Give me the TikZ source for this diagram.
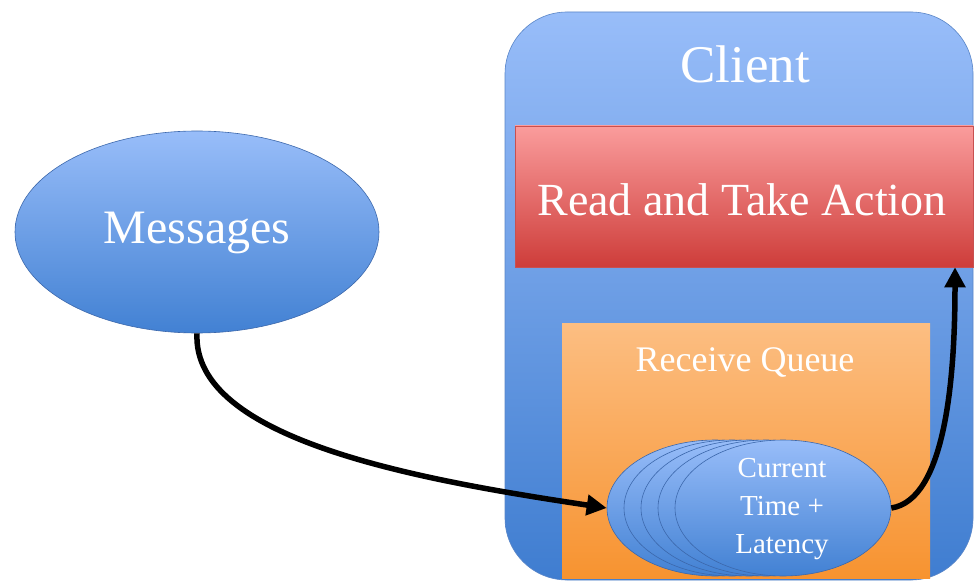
\documentclass[tikz,border=0pt]{standalone}
\usepackage{fontspec}
\setmainfont{Liberation Serif}
\usetikzlibrary{shapes.geometric,arrows.meta}
\definecolor{cltop}{HTML}{98BDF9}
\definecolor{clbot}{HTML}{3F7DD0}
\definecolor{cledge}{HTML}{5A86C8}
\definecolor{rdtop}{HTML}{FA9C9C}
\definecolor{rdbot}{HTML}{CE3D3A}
\definecolor{rdedge}{HTML}{C85050}
\definecolor{ortop}{HTML}{FCBE82}
\definecolor{orbot}{HTML}{F79330}
\definecolor{ellbot}{HTML}{4281D3}
\definecolor{elledge}{HTML}{3C68AC}
\tikzset{
  txt/.style={text=white},
  blueell/.style={ellipse, draw=elledge, line width=0.6pt, top color=cltop, bottom color=ellbot, inner sep=0pt},
  flow/.style={line width=5.5pt, black, -{Triangle[length=20pt,width=20pt]}}
}
\begin{document}
\begin{tikzpicture}[x=1pt,y=-1pt]
\useasboundingbox[fill=white] (0,0) rectangle (974,588);
% client
\node[draw=cledge, line width=0.6pt, rounded corners=62pt, top color=cltop, bottom color=clbot,
      minimum width=468pt, minimum height=568pt, inner sep=0pt] (client) at (739,296) {};
\node[txt, font=\fontsize{53}{60}\selectfont] (clientlbl) at (745,64) {Client};
% read and take action
\node[draw=rdedge, line width=0.5pt, top color=rdtop, bottom color=rdbot,
      minimum width=458pt, minimum height=141pt, inner sep=0pt] (read) at (744,196.5) {};
\node[txt, font=\fontsize{46}{50}\selectfont] (readlbl) at (742,200) {Read and Take Action};
% receive queue
\node[top color=ortop, bottom color=orbot,
      minimum width=368pt, minimum height=255pt, inner sep=0pt] (queue) at (746,450.5) {};
\node[txt, font=\fontsize{36}{40}\selectfont] (queuelbl) at (745,362) {Receive Queue};
% stacked messages
\node[blueell, minimum width=216pt, minimum height=136pt] (e1) at (715,508) {};
\node[blueell, minimum width=216pt, minimum height=136pt] (e2) at (732,508) {};
\node[blueell, minimum width=216pt, minimum height=136pt] (e3) at (749,508) {};
\node[blueell, minimum width=216pt, minimum height=136pt] (e4) at (766,508) {};
\node[blueell, minimum width=216pt, minimum height=136pt] (e5) at (783,508) {};
\node[txt, align=center, font=\fontsize{29}{38}\selectfont] (e5lbl) at (782,509) {Current\\Time +\\Latency};
% messages
\node[blueell, minimum width=364pt, minimum height=202pt] (msg) at (197,232) {};
\node[txt, font=\fontsize{48}{50}\selectfont] (msglbl) at (197,233) {Messages};
% arrows
\draw[flow] (msg.south) .. controls (192,440) and (420,480) .. (e1.west);
\draw[flow] (e5.east) .. controls (945,500) and (955,380) .. (read.south east -| 955,0) ;
\end{tikzpicture}
\end{document}
